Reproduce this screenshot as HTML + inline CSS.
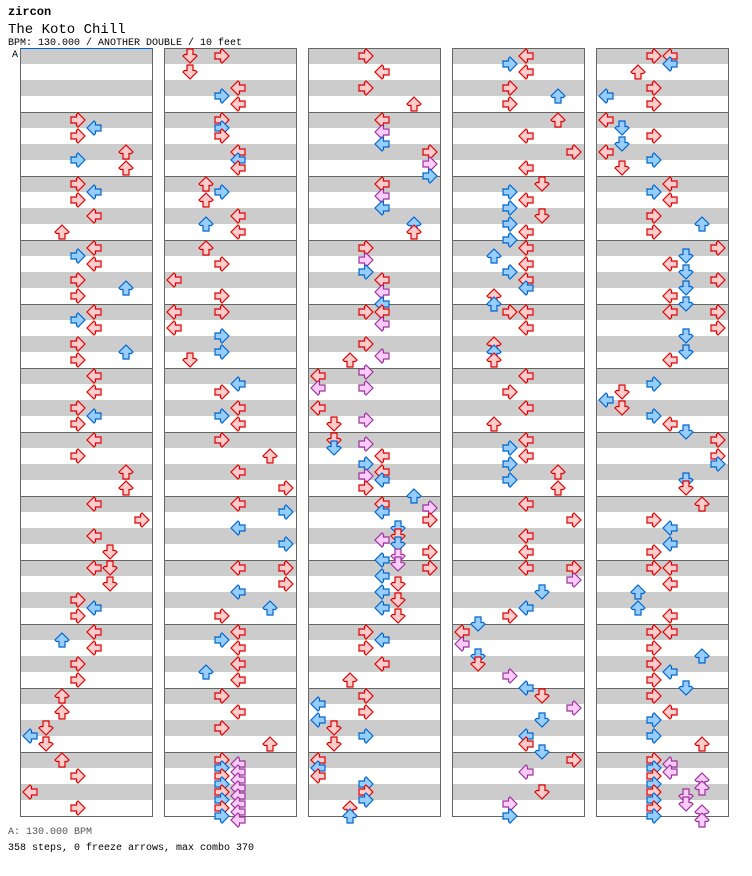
<!DOCTYPE html>
<html><head><meta charset="utf-8">
<style>
html,body{margin:0;padding:0;background:#fff;width:752px;height:876px;overflow:hidden}
svg{display:block}
text{font-family:"Liberation Mono",monospace}
</style></head>
<body>
<svg id="s" width="752" height="876" xmlns="http://www.w3.org/2000/svg">
<text x="8" y="15" font-size="12" font-weight="bold" fill="#000">zircon</text>
<text x="8" y="33" font-size="14" fill="#000">The Koto Chill</text>
<text x="8" y="45" font-size="10" fill="#000">BPM: 130.000 / ANOTHER DOUBLE / 10 feet</text>
<text x="12" y="57" font-size="10" fill="#000">A</text>
<text x="8" y="834" font-size="10" fill="#555">A: 130.000 BPM</text>
<text x="8" y="850" font-size="10" fill="#000">358 steps, 0 freeze arrows, max combo 370</text>
<g id="g"></g>
</svg>
<script>
var D=[
["","3.0 4.2 3.4 6.8 3.10 6.12","3.0 4.2 3.4 4.8 2.12","4.0 3.2 4.4 3.8 6.10 3.12","4.0 3.2 4.4 3.8 6.10 3.12","4.0 4.4 3.8 4.10 3.12","4.0 3.4 6.8 6.12","4.0 7.4 4.8 5.12","4.0 5.0 5.4 3.8 4.10 3.12","4.0 2.2 4.4 3.8 3.12","2.0 2.4 1.8 0.10 1.12","2.0 3.4 0.8 3.12"],
["1.0 3.0 1.4 4.8 3.10 4.12","3.0 3.2 3.4 4.8 4.10 4.12","2.0 3.2 2.4 4.8 2.10 4.12","2.0 3.4 0.8 3.12","0.0 3.0 0.4 3.6 3.10 1.12","4.2 3.4 4.8 3.10 4.12","3.0 6.4 4.8 7.12","4.0 7.2 4.6 7.10","4.0 7.0 7.4 4.6 6.10 3.12","4.0 3.2 4.4 4.8 2.10 4.12","3.0 4.4 3.8 6.12","3.0 4.1 3.2 4.3 3.4 4.5 3.6 4.7 3.8 4.9 3.10 4.11 3.12 4.13 3.14 4.15"],
["3.0 4.4 3.8 6.12","4.0 4.3 4.6 7.8 7.11 7.14","4.0 4.3 4.6 6.10 6.12","3.0 3.3 3.6 4.8 4.11 4.14","3.0 4.0 4.3 3.8 4.11 2.12 3.15","0.0 0.3 3.3 0.8 3.11 1.12","1.0 3.1 1.2 4.4 3.6 4.8 3.9 4.10 3.12 6.14","4.0 7.1 4.2 7.4 5.6 5.8 4.9 5.10 7.12 5.13 4.14 5.15","7.0 4.2 5.4 4.6 5.8 4.10 5.12","3.0 4.2 3.4 4.8 2.12","3.0 0.2 3.4 0.6 1.8 3.10 1.12","0.0 0.2 0.4 3.6 3.8 3.10 2.12 2.14"],
["4.0 3.2 4.4 3.8 6.10 3.12","6.0 4.4 7.8 4.12","5.0 3.2 4.4 3.6 5.8 3.10 4.12 3.14","4.0 2.2 4.4 3.6 4.8 4.10 2.12 2.14","3.0 4.0 4.4 2.8 2.10 2.12","4.0 3.4 4.8 2.12","4.0 3.2 4.4 3.6 6.8 3.10 6.12","4.0 7.4 4.8 4.12","4.0 7.0 7.3 5.6 4.10 3.12 1.14","0.0 0.3 1.6 1.8 3.11 4.14","5.0 7.3 5.6 4.10 4.12 5.14","7.0 4.3 5.8 3.11 3.14"],
["3.0 4.0 4.2 2.4 3.8 0.10 3.12","0.0 1.2 3.4 1.6 0.8 3.10 1.12","4.0 3.2 4.4 3.8 6.10 3.12","7.0 5.2 4.4 5.6 7.8 5.10 4.12 5.14","4.0 7.0 7.4 5.6 5.10 4.12","3.2 1.4 0.6 1.8 3.10 4.12 5.14","7.0 7.4 7.6 5.10 5.12","6.0 3.4 4.6 4.10 3.12","3.0 4.0 4.4 2.6 2.10 4.12","3.0 4.0 3.4 6.6 3.8 4.10 3.12 5.14","3.0 4.4 3.6 3.10 6.12","3.0 4.1 3.2 4.3 3.4 6.5 3.6 6.7 3.8 5.9 3.10 5.11 3.12 6.13 3.14 6.15"]
];
var h='';
for(var c=0;c<5;c++){var x=20+144*c;
 for(var m=0;m<12;m++){var y=48+64*m;
  h+='<rect x="'+(x+0.5)+'" y="'+y+'" width="132" height="16" fill="#ccc"/>';
  h+='<rect x="'+(x+0.5)+'" y="'+(y+32)+'" width="132" height="16" fill="#ccc"/>';
  h+='<line x1="'+x+'" y1="'+(y+0.5)+'" x2="'+(x+133)+'" y2="'+(y+0.5)+'" stroke="#666"/>';
 }
 h+='<rect x="'+(x+0.5)+'" y="48.5" width="132" height="768" fill="none" stroke="#666"/>';
}
h+='<line x1="20" y1="48.5" x2="153" y2="48.5" stroke="#06c"/>';
var rot=[0,-90,90,180];
var P="-7,0 0,-7 1.5,-5.5 1.5,-3 7,-3 7,3 1.5,3 1.5,5.5 0,7";
for(var c=0;c<5;c++){var x=20+144*c;
 for(var m=0;m<12;m++){var y=48+64*m;if(!D[c][m])continue;
  var a=D[c][m].split(' ');
  for(var i=0;i<a.length;i++){var p=a[i].split('.');var l=+p[0],k=+p[1];
   var f,s;if(k%4==0){f='#fcc';s='#d00';}else if(k%2==0){f='#9cf';s='#06c';}else{f='#fcf';s='#939';}
   var cx=x+10+16*l,cy=y+4*k+8;
   h+='<polygon points="'+P+'" transform="translate('+cx+','+cy+') rotate('+rot[l%4]+')" style="fill:'+f+';stroke:'+s+';stroke-width:1.2"/>';
  }}}
document.getElementById('g').innerHTML=h;
</script>
</body></html>
